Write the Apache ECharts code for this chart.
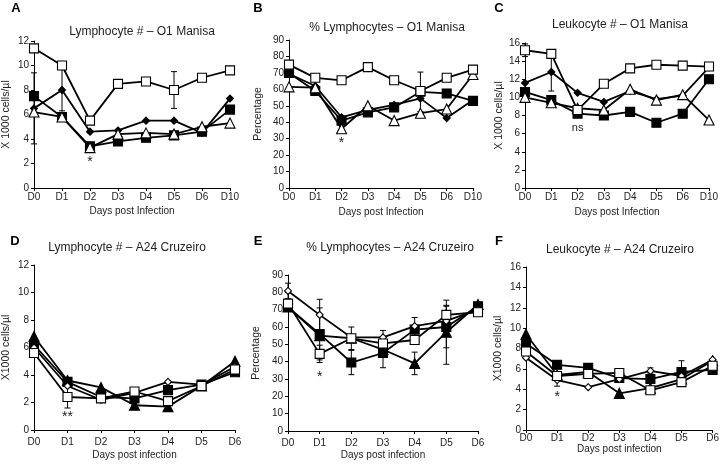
<!DOCTYPE html>
<html><head><meta charset="utf-8">
<script src="https://cdn.jsdelivr.net/npm/echarts/dist/echarts.min.js"></script>
<style>html,body{margin:0;padding:0;background:#fff}#c{width:722px;height:465px}</style>
</head><body><div id="c"></div><script>
// ---- categories ----
const daysO1 = ['D0','D1','D2','D3','D4','D5','D6','D10'];
const daysA24 = ['D0','D1','D2','D3','D4','D5','D6'];

// ---- Panel A: Lymphocyte # – O1 Manisa ----
const aOpenSquare    = [11.4, 10.0, 5.5, 8.5, 8.7, 8.0, 9.0, 9.6];
const aFilledSquare  = [7.5, 5.8, 3.4, 3.8, 4.1, 4.3, 4.6, 6.4];
const aFilledDiamond = [6.5, 8.0, 4.6, 4.7, 5.5, 5.5, 4.5, 7.3];
const aOpenTriangle  = [6.2, 5.8, 3.3, 4.4, 4.5, 4.4, 5.0, 5.3];
const aOpenSquareErr    = [null, null, null, null, null, 1.5, null, null];
const aFilledDiamondErr = [2.9, 1.7, null, null, null, null, null, null];
const aNote = ['D2', 2.1, '*'];

// ---- Panel B: % Lymphocytes – O1 Manisa ----
const bOpenSquare    = [75, 67, 65.5, 73.5, 65.5, 59, 67, 72];
const bFilledSquare  = [70, 59, 41, 46, 49, 58.5, 57.5, 53];
const bFilledDiamond = [69.5, 62, 43, 47.5, 50.5, 54.5, 42.5, 53.5];
const bOpenTriangle  = [61.5, 61, 36, 50, 41, 45.5, 48, 69];
const bFilledSquareErr = [null, null, null, null, null, 12, null, null];
const bNote = ['D2', 27, '*'];

// ---- Panel C: Leukocyte # – O1 Manisa ----
const cOpenSquare    = [15.2, 14.8, 8.6, 11.5, 13.2, 13.6, 13.5, 13.4];
const cFilledSquare  = [10.6, 9.7, 8.2, 8.0, 8.4, 7.2, 8.2, 12.0];
const cFilledDiamond = [11.6, 12.8, 10.5, 9.5, 10.7, 9.8, 10.2, 13.3];
const cOpenTriangle  = [10.0, 9.4, 8.8, 8.6, 10.9, 9.7, 10.3, 7.5];
const cOpenSquareErr    = [0.7, null, null, null, null, null, null, null];
const cFilledDiamondErr = [null, 2.1, null, null, null, null, null, null];
const cNote = ['D2', 6.6, 'ns'];

// ---- Panel D: Lymphocyte # – A24 Cruzeiro ----
const dFilledTriangle = [6.8, 3.6, 3.1, 1.8, 1.7, 3.2, 5.0];
const dFilledSquare   = [6.2, 3.5, 2.4, 2.3, 2.9, 3.3, 4.2];
const dOpenSquare     = [5.6, 2.4, 2.3, 2.8, 2.1, 3.2, 4.4];
const dOpenDiamond    = [6.0, 3.2, 2.2, 2.7, 3.5, 3.3, 4.6];
const dFilledTriangleErr = [null, null, null, 0.2, 0.3, null, null];
const dFilledSquareErr   = [null, 0.3, null, null, null, null, null];
const dOpenSquareErr     = [null, 0.8, null, null, null, null, null];
const dNote = ['D1', 0.9, '**'];

// ---- Panel E: % Lymphocytes – A24 Cruzeiro ----
const eOpenDiamond    = [80.8, 67, 54, 54, 60.5, 63.5, 70];
const eFilledSquare   = [71.5, 56, 39.5, 45, 58.5, 60, 72];
const eOpenSquare     = [73.5, 44.5, 53.5, 50.5, 52.5, 67, 68.5];
const eFilledTriangle = [71.5, 55, 53.5, 47, 39, 57, 73];
const eOpenDiamondErr    = [4.5, 9, null, 4, null, 9, null];
const eFilledSquareErr   = [null, 15, 7, 8.5, 7, 12, null];
const eFilledTriangleErr = [null, null, 6.5, null, 6.5, 18.5, null];
const eOpenSquareErr     = [null, 5, null, null, null, null, null];
const eNote = ['D1', 31, '*'];

// ---- Panel F: Leukocyte # – A24 Cruzeiro ----
const fFilledTriangle = [9.4, 5.4, 5.7, 3.6, 4.1, 5.0, 6.8];
const fFilledSquare   = [8.5, 6.4, 6.1, 5.1, 5.0, 5.7, 5.9];
const fOpenSquare     = [7.7, 5.3, 5.5, 5.6, 3.9, 4.7, 6.3];
const fOpenDiamond    = [7.1, 4.9, 4.2, 5.0, 5.8, 5.3, 6.9];
const fFilledSquareErr = [null, 0.4, null, null, null, 1.1, 0.3];
const fOpenDiamondErr  = [null, 0.6, null, null, 0.3, null, null];
const fNote = ['D1', 3.2, '*'];

// ---- marker styles ----
const MK = {
  openSquare:     {symbol: 'rect', size: 9, fill: '#fff'},
  filledSquare:   {symbol: 'rect', size: 9, fill: '#000'},
  filledDiamond:  {symbol: 'diamond', size: 7, fill: '#000'},
  openTriangle:   {symbol: 'triangle', size: 10, fill: '#fff'},
  filledTriangle: {symbol: 'triangle', size: 10, fill: '#000'},
  openDiamond:    {symbol: 'diamond', size: 7, fill: '#fff'}
};

const FONT = 'Liberation Sans, Arial, sans-serif';
const TXT = '#222';

const panels = [
  {letter: 'A', title: 'Lymphocyte # \u2013 O1 Manisa', cats: daysO1, yMax: 12, yInt: 2,
   yName: 'X 1000 cells/\u00b5l', xName: 'Days post Infection',
   grid: {left: 33, top: 41, width: 197, height: 147}, titlePos: [142, 32], letterPos: [16, 8],
   yNameGap: 22, xNameGap: 18, xLabelMargin: 4,
   series: [[aFilledSquare, 'filledSquare', null], [aFilledDiamond, 'filledDiamond', aFilledDiamondErr],
            [aOpenTriangle, 'openTriangle', null], [aOpenSquare, 'openSquare', aOpenSquareErr]],
   note: aNote},
  {letter: 'B', title: '% Lymphocytes \u2013 O1 Manisa', cats: daysO1, yMax: 90, yInt: 10,
   yName: 'Percentage', xName: 'Days post Infection',
   grid: {left: 289, top: 40, width: 184, height: 148}, titlePos: [387, 28], letterPos: [258, 8],
   yNameGap: 25, xNameGap: 19, xLabelMargin: 4,
   series: [[bFilledSquare, 'filledSquare', bFilledSquareErr], [bFilledDiamond, 'filledDiamond', null],
            [bOpenTriangle, 'openTriangle', null], [bOpenSquare, 'openSquare', null]],
   note: bNote},
  {letter: 'C', title: 'Leukocyte # \u2013 O1 Manisa', cats: daysO1, yMax: 16, yInt: 2,
   yName: 'X 1000 cells/\u00b5l', xName: 'Days post Infection',
   grid: {left: 525, top: 43, width: 184, height: 145}, titlePos: [620, 25], letterPos: [499, 8],
   yNameGap: 18, xNameGap: 19, xLabelMargin: 4,
   series: [[cFilledSquare, 'filledSquare', null], [cFilledDiamond, 'filledDiamond', cFilledDiamondErr],
            [cOpenTriangle, 'openTriangle', null], [cOpenSquare, 'openSquare', cOpenSquareErr]],
   note: cNote},
  {letter: 'D', title: 'Lymphocyte # \u2013 A24 Cruzeiro', cats: daysA24, yMax: 12, yInt: 2,
   yName: 'X1000 cells/\u00b5l', xName: 'Days post infection',
   grid: {left: 33, top: 265, width: 202, height: 165}, titlePos: [127, 248], letterPos: [15, 241],
   yNameGap: 22, xNameGap: 20, xLabelMargin: 7,
   series: [[dFilledTriangle, 'filledTriangle', dFilledTriangleErr], [dFilledSquare, 'filledSquare', dFilledSquareErr],
            [dOpenDiamond, 'openDiamond', null], [dOpenSquare, 'openSquare', dOpenSquareErr]],
   note: dNote},
  {letter: 'E', title: '% Lymphocytes \u2013 A24 Cruzeiro', cats: daysA24, yMax: 90, yInt: 10,
   yName: 'Percentage', xName: 'Days post infection',
   grid: {left: 288, top: 275, width: 190, height: 156}, titlePos: [390, 248], letterPos: [258, 241],
   yNameGap: 26, xNameGap: 19, xLabelMargin: 7,
   series: [[eFilledTriangle, 'filledTriangle', eFilledTriangleErr], [eFilledSquare, 'filledSquare', eFilledSquareErr],
            [eOpenDiamond, 'openDiamond', eOpenDiamondErr], [eOpenSquare, 'openSquare', eOpenSquareErr]],
   note: eNote},
  {letter: 'F', title: 'Leukocyte # \u2013 A24 Cruzeiro', cats: daysA24, yMax: 16, yInt: 2,
   yName: 'X1000 cells/\u00b5l', xName: 'Days post infection',
   grid: {left: 526, top: 267, width: 189, height: 163}, titlePos: [620, 250], letterPos: [499, 241],
   yNameGap: 22, xNameGap: 10, xLabelMargin: 3,
   series: [[fFilledTriangle, 'filledTriangle', null], [fFilledSquare, 'filledSquare', fFilledSquareErr],
            [fOpenDiamond, 'openDiamond', fOpenDiamondErr], [fOpenSquare, 'openSquare', null]],
   note: fNote}
];

function errRender(params, api) {
  const x = api.value(0);
  const lo = api.coord([x, api.value(1)]);
  const hi = api.coord([x, api.value(2)]);
  const w = 3;
  const st = {stroke: '#000', lineWidth: 1};
  return {type: 'group', children: [
    {type: 'line', shape: {x1: lo[0], y1: lo[1], x2: hi[0], y2: hi[1]}, style: st},
    {type: 'line', shape: {x1: lo[0] - w, y1: lo[1], x2: lo[0] + w, y2: lo[1]}, style: st},
    {type: 'line', shape: {x1: hi[0] - w, y1: hi[1], x2: hi[0] + w, y2: hi[1]}, style: st}
  ]};
}

const noteTexts = {};
function noteRender(params, api) {
  const p = api.coord([api.value(0), api.value(1)]);
  const t = noteTexts[params.seriesIndex];
  return {type: 'text', x: p[0], y: p[1], style: {
    text: t, fill: TXT, font: (t === 'ns' ? '11px ' : '14px ') + FONT,
    align: 'center', verticalAlign: 'middle'}};
}

const grids = [], xAxes = [], yAxes = [], series = [], graphics = [];
panels.forEach((p, i) => {
  grids.push(Object.assign({containLabel: false}, p.grid));
  xAxes.push({
    gridIndex: i, type: 'category', data: p.cats, boundaryGap: false,
    axisLine: {lineStyle: {color: '#000', width: 1}},
    axisTick: {show: true, length: 3, lineStyle: {color: '#000'}},
    axisLabel: {color: TXT, fontSize: 10, fontFamily: FONT, margin: p.xLabelMargin, interval: 0},
    name: p.xName, nameLocation: 'middle', nameGap: p.xNameGap,
    nameTextStyle: {color: TXT, fontSize: 10, fontFamily: FONT}
  });
  yAxes.push({
    gridIndex: i, type: 'value', min: 0, max: p.yMax, interval: p.yInt,
    splitLine: {show: false},
    axisLine: {show: true, lineStyle: {color: '#000', width: 1}},
    axisTick: {show: true, length: 3, lineStyle: {color: '#000'}},
    axisLabel: {color: TXT, fontSize: 10, fontFamily: FONT, margin: 5},
    name: p.yName, nameLocation: 'middle', nameRotate: 90, nameGap: p.yNameGap,
    nameTextStyle: {color: TXT, fontSize: 10.5, fontFamily: FONT}
  });
  p.series.forEach((s, k) => {
    const [vals, mk, err] = s;
    const m = MK[mk];
    if (err) {
      const ed = [];
      err.forEach((e, j) => { if (e != null) ed.push([j, vals[j] - e, vals[j] + e]); });
      series.push({type: 'custom', xAxisIndex: i, yAxisIndex: i, data: ed,
        encode: {x: 0, y: [1, 2]}, renderItem: errRender, z: 1, silent: true});
    }
    series.push({
      type: 'line', xAxisIndex: i, yAxisIndex: i, data: vals,
      symbol: m.symbol, symbolSize: m.size, showSymbol: true, showAllSymbol: true,
      lineStyle: {color: '#000', width: 1.8},
      itemStyle: {color: m.fill, borderColor: '#000', borderWidth: 1.1},
      z: 2 + k, silent: true
    });
  });
  const idx = series.length;
  noteTexts[idx] = p.note[2];
  series.push({type: 'custom', xAxisIndex: i, yAxisIndex: i,
    data: [[p.cats.indexOf(p.note[0]), p.note[1]]], encode: {x: 0, y: 1},
    renderItem: noteRender, z: 10, silent: true});
  graphics.push({type: 'text', x: p.titlePos[0], y: p.titlePos[1],
    style: {text: p.title, fill: TXT, font: '12px ' + FONT, align: 'center', verticalAlign: 'middle'}});
  graphics.push({type: 'text', x: p.letterPos[0], y: p.letterPos[1],
    style: {text: p.letter, fill: '#000', font: 'bold 13px ' + FONT, align: 'center', verticalAlign: 'middle'}});
});

const chart = echarts.init(document.getElementById('c'), null, {renderer: 'canvas'});
chart.setOption({
  animation: false,
  backgroundColor: '#fff',
  grid: grids, xAxis: xAxes, yAxis: yAxes, series: series, graphic: graphics
});
</script></body></html>
